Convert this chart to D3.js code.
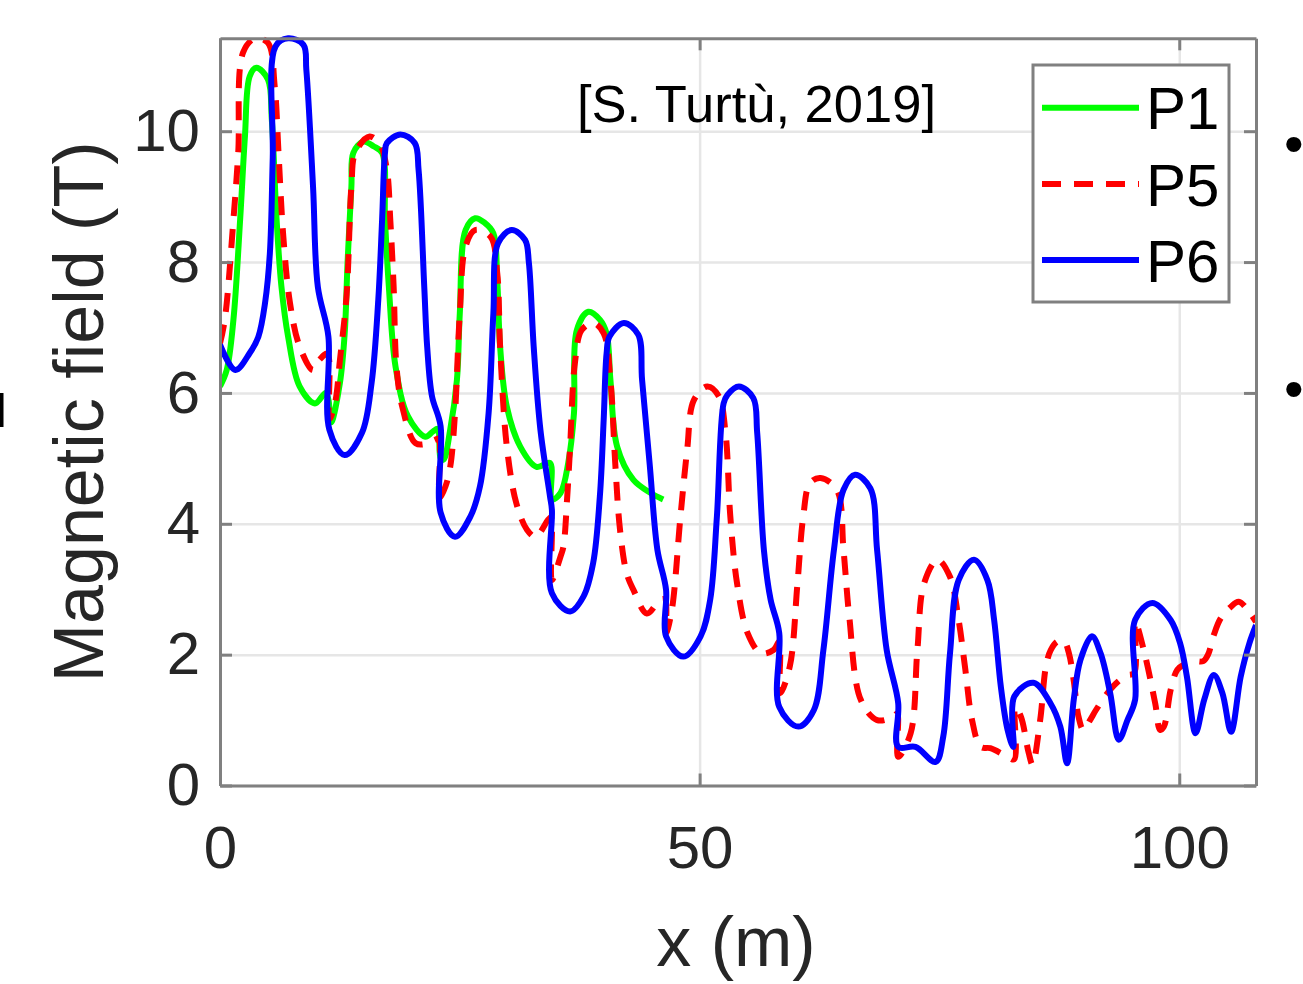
<!DOCTYPE html>
<html>
<head>
<meta charset="utf-8">
<script src="https://cdn.jsdelivr.net/npm/d3@7"></script>
<style>
  html, body { margin: 0; padding: 0; background: #fff; }
  svg { display: block; font-family: "Liberation Sans", Arial, Helvetica, sans-serif; }
</style>
</head>
<body>
<svg id="chart" width="1303" height="984"></svg>
<script>
// Field along the magnet string, position x (m) -> B (T)
const p1 = [
  [0,6.10],[0.7,6.35],[1.4,7.12],[2.1,8.65],[2.6,9.92],[3.1,10.84],[3.8,10.97],[5.0,10.79],
  [5.4,10.18],[5.9,8.65],[6.4,7.63],[7.1,6.86],[8.3,6.10],[9.9,5.84],[11.0,6.0],[11.3,5.9],
  [11.6,5.55],[12.5,6.15],[13.0,6.91],[13.3,8.0],[13.7,9.16],[13.9,9.67],[14.95,9.84],[16.0,9.77],
  [16.9,9.67],[17.2,8.65],[17.6,7.63],[18.3,6.40],[19.6,5.64],[21.4,5.33],[22.2,5.41],[22.7,5.45],
  [23.0,5.0],[23.3,4.98],[24.0,5.44],[24.7,6.2],[25.0,7.22],[25.6,8.49],[26.6,8.67],[27.6,8.6],
  [28.5,8.44],[28.9,7.73],[29.2,6.71],[29.9,5.79],[31.3,5.18],[33.0,4.87],[34.4,4.93],[34.6,4.37],
  [35.5,4.47],[36.3,4.93],[36.9,5.69],[37.2,6.96],[38.4,7.24],[39.6,7.12],[40.3,6.91],[40.7,6.2],
  [41.4,5.18],[43.1,4.67],[44.9,4.47],[46.2,4.37]
];
const p5 = [
  [0,6.76],[0.5,7.12],[1.4,8.65],[1.9,9.67],[2.4,11.2],[3.65,11.42],[5.0,11.35],[5.7,10.69],
  [6.1,9.67],[6.6,8.39],[7.3,7.37],[8.3,6.71],[9.7,6.35],[10.4,6.51],[11.2,6.6],[11.4,5.6],
  [12.0,5.85],[12.5,6.5],[13.2,7.5],[13.7,9.16],[14.1,9.67],[15.6,9.92],[16.7,9.79],[17.4,9.41],
  [17.75,8.65],[18.1,7.63],[18.4,6.40],[19.0,5.79],[20.4,5.23],[21.7,5.23],[22.4,5.28],[22.8,5.3],
  [22.9,4.4],[23.5,4.57],[24.0,4.87],[24.5,5.69],[25.0,7.22],[25.6,8.24],[26.6,8.49],[28.2,8.39],
  [28.9,7.83],[29.2,6.71],[29.9,5.18],[30.9,4.31],[32.0,3.91],[32.9,3.80],[34.2,4.06],[34.5,4.1],
  [34.6,3.14],[35.5,3.5],[35.8,3.65],[36.2,4.42],[36.5,5.18],[37.0,6.46],[37.7,6.96],[38.9,7.07],
  [40.0,6.91],[40.7,6.2],[41.2,4.93],[41.7,3.91],[42.4,3.24],[43.1,2.99],[44.5,2.63],[45.9,2.84],
  [46.4,2.84],[46.5,2.33],[47.1,2.68],[48.0,4.11],[48.7,5.13],[49.4,5.89],[50.8,6.10],[52.0,5.95],
  [52.7,5.39],[53.2,4.11],[53.9,3.09],[55.0,2.33],[56.4,2.02],[57.7,2.07],[58.3,2.2],[58.4,1.41],
  [59.4,1.82],[60.2,3.09],[60.8,4.11],[61.5,4.62],[62.6,4.70],[64.3,4.52],[65.0,3.60],[65.6,2.58],
  [66.8,1.31],[68.5,1.0],[70.2,1.05],[70.6,1.1],[70.7,0.44],[72.0,0.80],[72.7,2.07],[73.4,3.09],
  [74.8,3.45],[76.1,3.19],[77.0,2.53],[77.7,1.77],[78.4,1.0],[79.3,0.59],[80.3,0.57],[82.1,0.44],
  [82.8,0.40],[82.9,1.2],[83.5,1.05],[84.3,0.5],[84.7,0.32],[85.5,1.0],[86.1,1.82],[86.6,2.07],
  [87.3,2.2],[88.0,2.2],[88.5,2.02],[89.0,1.6],[89.5,1.05],[90.0,0.85],[90.7,1.0],[91.3,1.15],
  [92.5,1.41],[93.4,1.56],[94.5,1.68],[95.3,1.72],[95.4,2.5],[96.3,2.07],[97.5,1.25],[98.0,0.85],
  [98.4,0.9],[99.1,1.46],[99.8,1.77],[100.5,1.85],[101.5,1.9],[102.5,1.9],[103.0,2.0],[103.6,2.3],
  [104.3,2.55],[105.3,2.72],[106.2,2.81],[107.4,2.63],[108.0,2.5]
];
const p6 = [
  [0,6.74],[1.6,6.35],[3.1,6.61],[4.0,6.86],[4.7,7.38],[5.2,8.14],[5.5,9.6],[5.8,11.3],
  [7.1,11.42],[8.7,11.32],[9.0,10.94],[9.7,9.15],[10.2,7.62],[11.3,6.86],[11.4,5.44],[13.0,5.05],
  [14.8,5.39],[15.8,6.15],[16.5,7.42],[16.9,8.65],[17.2,9.67],[17.4,9.82],[18.8,9.95],[20.3,9.82],
  [20.7,9.41],[21.3,7.6],[21.6,6.7],[22.1,5.95],[23.0,5.49],[23.0,4.17],[24.5,3.80],[26.1,4.11],
  [27.1,4.57],[28.0,5.69],[28.5,7.22],[29.0,8.29],[30.4,8.49],[31.8,8.34],[32.2,7.99],[32.7,6.71],
  [33.4,5.44],[34.4,4.42],[34.6,4.21],[34.6,2.94],[36.5,2.66],[37.9,2.89],[38.9,3.40],[39.6,4.42],
  [40.0,5.6],[40.3,6.6],[40.6,6.86],[42.1,7.07],[43.6,6.89],[44.0,6.2],[44.8,4.9],[45.6,3.60],
  [46.5,2.99],[46.5,2.28],[48.3,1.97],[50.1,2.28],[51.1,2.84],[51.8,4.11],[52.5,5.84],[52.9,5.97],
  [54.1,6.10],[55.6,5.92],[56.0,5.39],[56.7,3.60],[57.4,2.84],[58.3,2.33],[58.3,1.20],[60.3,0.90],
  [61.9,1.15],[62.9,2.07],[64.0,3.60],[65.0,4.52],[66.2,4.75],[67.8,4.54],[68.5,3.60],[69.5,2.07],
  [70.7,1.26],[70.7,0.59],[72.5,0.59],[74.6,0.36],[75.4,0.75],[76.1,2.02],[77.0,3.14],[78.6,3.45],
  [80.0,3.14],[80.7,2.53],[81.4,1.51],[82.1,0.85],[82.7,0.59],[82.8,1.36],[84.8,1.57],[86.6,1.25],
  [87.6,0.90],[88.3,0.34],[89.0,1.31],[89.7,1.92],[90.9,2.28],[91.8,2.02],[92.8,1.41],[93.7,0.70],
  [94.6,1.0],[95.4,1.31],[95.4,2.53],[97.2,2.79],[99.1,2.53],[100.1,2.17],[100.8,1.66],[101.7,0.80],
  [102.6,1.31],[103.6,1.69],[104.5,1.41],[105.4,0.82],[106.4,1.66],[107.3,2.17],[108.0,2.45]
];

const seriesNames = ["P1", "P5", "P6"];
const seriesData = [p1, p5, p6];
const seriesColors = ["#00ff00", "#ff0000", "#0000ff"];
const seriesDash = [null, "19,13", null];

const xTicks = [0, 50, 100];
const yTicks = [0, 2, 4, 6, 8, 10];
const xDomain = [0, 108];
const yDomain = [0, 11.42];

const plot = { left: 220, right: 1256, top: 38.3, bottom: 785.5 };
const axisGray = "#808080";
const tickFont = 60;
const labelFont = 70;

const svg = d3.select("#chart");
svg.append("rect").attr("width", 1303).attr("height", 984).attr("fill", "#fff");

const x = d3.scaleLinear().domain(xDomain).range([plot.left, plot.right]);
const y = d3.scaleLinear().domain(yDomain).range([plot.bottom, plot.top]);
const W = plot.right - plot.left, H = plot.bottom - plot.top;

// grid
const grid = svg.append("g").attr("class", "grid");
grid.append("g").attr("transform", `translate(0,${plot.bottom})`)
  .call(d3.axisBottom(x).tickValues(xTicks).tickSize(-H).tickFormat(""))
  .call(g => g.select(".domain").remove())
  .call(g => g.selectAll("line").attr("stroke", "#e6e6e6").attr("stroke-width", 2.5));
grid.append("g").attr("transform", `translate(${plot.left},0)`)
  .call(d3.axisLeft(y).tickValues(yTicks).tickSize(-W).tickFormat(""))
  .call(g => g.select(".domain").remove())
  .call(g => g.selectAll("line").attr("stroke", "#e6e6e6").attr("stroke-width", 2.5));

// curves
svg.append("clipPath").attr("id", "plotClip").append("rect")
  .attr("x", plot.left).attr("y", plot.top - 4).attr("width", W).attr("height", H + 4);

const line = d3.line()
  .x(d => x(d[0])).y(d => y(d[1]))
  .curve(d3.curveCatmullRom.alpha(0.5));

const curves = svg.append("g").attr("clip-path", "url(#plotClip)");
seriesData.forEach((data, i) => {
  curves.append("path")
    .datum(data)
    .attr("d", line)
    .attr("fill", "none")
    .attr("stroke", seriesColors[i])
    .attr("stroke-width", 6)
    .attr("stroke-linejoin", "round")
    .attr("stroke-dasharray", seriesDash[i]);
});

// axes with inward ticks
function styleAxis(g) {
  g.select(".domain").attr("stroke", axisGray).attr("stroke-width", 3);
  g.selectAll(".tick line").attr("stroke", axisGray).attr("stroke-width", 3);
  g.selectAll("text").attr("fill", "#262626").attr("font-size", tickFont)
    .attr("font-family", "Liberation Sans, Arial, sans-serif");
}
svg.append("g").attr("transform", `translate(0,${plot.bottom})`)
  .call(d3.axisBottom(x).tickValues(xTicks).tickSize(-12).tickSizeOuter(0).tickPadding(40))
  .call(styleAxis);
svg.append("g").attr("transform", `translate(${plot.left},0)`)
  .call(d3.axisLeft(y).tickValues(yTicks).tickSize(-12).tickSizeOuter(0).tickPadding(20))
  .call(styleAxis);
svg.append("g").attr("transform", `translate(0,${plot.top})`)
  .call(d3.axisTop(x).tickValues(xTicks).tickSize(-12).tickSizeOuter(0).tickFormat(""))
  .call(styleAxis);
svg.append("g").attr("transform", `translate(${plot.right},0)`)
  .call(d3.axisRight(y).tickValues(yTicks).tickSize(-12).tickSizeOuter(0).tickFormat(""))
  .call(styleAxis);

// axis labels
svg.append("text")
  .attr("x", (plot.left + plot.right) / 2 - 2).attr("y", 966)
  .attr("text-anchor", "middle").attr("font-size", labelFont).attr("fill", "#262626")
  .text("x (m)");
svg.append("text")
  .attr("transform", `translate(103,${(plot.top + plot.bottom) / 2}) rotate(-90)`)
  .attr("text-anchor", "middle").attr("font-size", labelFont).attr("fill", "#262626")
  .text("Magnetic field (T)");

// source note
svg.append("text")
  .attr("x", 577).attr("y", 122)
  .attr("font-size", 52.5).attr("fill", "#000")
  .text("[S. Turtù, 2019]");

// legend
const legend = svg.append("g");
legend.append("rect")
  .attr("x", 1033).attr("y", 65).attr("width", 196).attr("height", 237)
  .attr("fill", "#fff").attr("stroke", axisGray).attr("stroke-width", 3);
const legendRows = [107.7, 184, 260];
seriesNames.forEach((name, i) => {
  legend.append("line")
    .attr("x1", 1042).attr("x2", 1139)
    .attr("y1", legendRows[i]).attr("y2", legendRows[i])
    .attr("stroke", seriesColors[i]).attr("stroke-width", 6)
    .attr("stroke-dasharray", seriesDash[i]);
  legend.append("text")
    .attr("x", 1146).attr("y", legendRows[i]).attr("dy", "0.36em")
    .attr("font-size", 60).attr("fill", "#000")
    .text(name);
});

// neighbouring slide content at the page edges: a cut glyph stem and two bullets
svg.append("rect").attr("x", 0).attr("y", 393).attr("width", 3.5).attr("height", 34).attr("fill", "#000");
svg.append("text").attr("x", 1284).attr("y", 163).attr("font-size", 56).attr("fill", "#000").text("•");
svg.append("text").attr("x", 1284).attr("y", 408).attr("font-size", 56).attr("fill", "#000").text("•");
</script>
</body>
</html>
